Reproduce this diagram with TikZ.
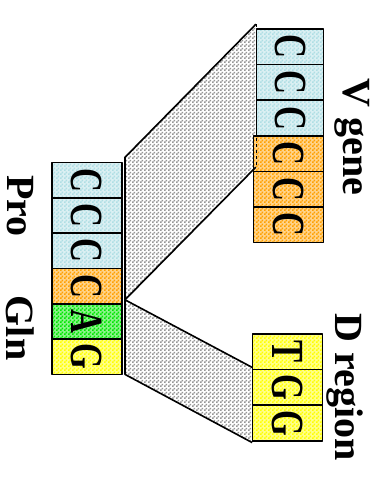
\documentclass[tikz,border=0pt]{standalone}
\usepackage{fontspec}
\setmainfont{Liberation Serif}
\usetikzlibrary{patterns,calc}
\pgfdeclarelayer{background}
\pgfsetlayers{background,main}

\pgfdeclarepatternformonly{finecheck}{\pgfpointorigin}{\pgfqpoint{4pt}{4pt}}{\pgfqpoint{4pt}{4pt}}{%
	\pgfpathrectangle{\pgfpointorigin}{\pgfqpoint{2pt}{2pt}}%
	\pgfpathrectangle{\pgfqpoint{2pt}{2pt}}{\pgfqpoint{2pt}{2pt}}%
	\pgfusepath{fill}}

\definecolor{paleblue}{RGB}{175,222,228}
\definecolor{ntorange}{RGB}{255,160,0}
\definecolor{ntgreen}{RGB}{0,230,0}
\definecolor{ntyellow}{RGB}{255,255,0}
\definecolor{shade}{RGB}{150,150,150}

\tikzset{
	ntbox/.style={draw, line width=1.6pt, minimum height=35.5pt, inner sep=0pt,
		preaction={fill=#1!45!white}, pattern=finecheck, pattern color=#1,
		font=\fontsize{46}{46}\selectfont\bfseries},
	lab/.style={rotate=-90, inner sep=0pt, font=\fontsize{40}{40}\selectfont\bfseries},
	proj/.style={preaction={fill=white}, pattern=finecheck, pattern color=shade}
}
\newcommand{\nt}[1]{\rotatebox{-90}{\scalebox{0.72}[1]{#1}}}

\begin{document}
\begin{tikzpicture}[x=1pt, y=-1pt, line join=round]
	\useasboundingbox (0,0) rectangle (381,479);
	% codons
	\foreach \t/\c [count=\i] in {C/paleblue, C/paleblue, C/paleblue, C/ntorange, A/ntgreen, G/ntyellow}
		\node[ntbox=\c, minimum width=70pt] (L\i) at (86.7, {162.7+35.3*(\i-0.5)}) {\nt{\t}};
	\foreach \t/\c/\x/\w [count=\i] in {C/paleblue/290/66.7, C/paleblue/290/66.7, C/paleblue/290/66.7,
			C/ntorange/288.3/70, C/ntorange/288.3/70, C/ntorange/288.3/70}
		\node[ntbox=\c, minimum width=\w pt] (V\i) at (\x, {29+35.6*(\i-0.5)}) {\nt{\t}};
	\foreach \t [count=\i] in {T,G,G}
		\node[ntbox=ntyellow, minimum width=70pt] (D\i) at (287.5, {334+35.6*(\i-0.5)}) {\nt{\t}};
	% labels
	\node[lab] (vgene) at (352,137) {V gene};
	\node[lab] (dreg) at (345,387) {D region};
	\node[lab] (pro) at (20.5,206) {Pro};
	\node[lab] (gln) at (20.5,328) {Gln};
	% projections
	\coordinate (vtl) at ($(L1.north east)+(2.5,-4.5)$);
	\coordinate (vbl) at ($(L4.south east)+(2.5,-5)$);
	\coordinate (vtr) at ($(V1.north west)+(0,-4)$);
	\coordinate (vbr) at ($(V1.west |- V4.south)+(0,-5)$);
	\coordinate (dtr) at ($(D1.south west)+(0.4,-3)$);
	\coordinate (dbr) at ($(D3.south west)+(0.4,1)$);
	\coordinate (dbl) at ($(L6.south east)+(2.5,-1)$);
	\begin{pgfonlayer}{background}
		\path[proj] (vtl) -- (vtr) -- (vbr) -- (vbl) -- cycle;
		\path[proj] (vbl) -- (dtr) -- (dbr) -- (dbl) -- cycle;
	\end{pgfonlayer}
	\draw[line width=1.6pt] (vbr) -- (vbl) -- (vtl) -- (vtr);
	\draw[line width=1.6pt] (dtr) -- (vbl) -- (dbl) -- (dbr);
	\draw[dashed, line width=0.6pt] (vtr) -- (vbr);
	\draw[dashed, line width=0.6pt] (dtr) -- (dbr);
\end{tikzpicture}
\end{document}
